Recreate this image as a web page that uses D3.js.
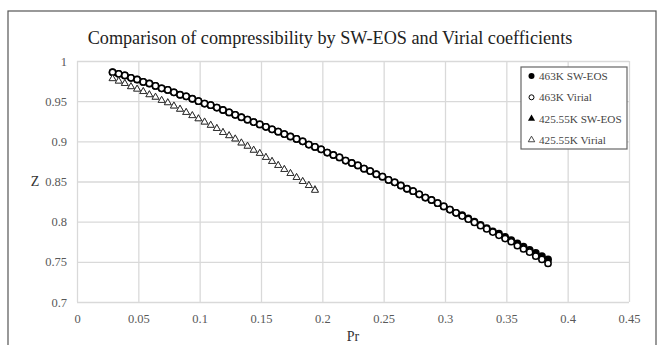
<!DOCTYPE html>
<html>
<head>
<meta charset="utf-8">
<script src="https://cdn.jsdelivr.net/npm/d3@7"></script>
<style>
  body { margin: 0; background: #fff; }
  svg { display: block; font-family: "Liberation Serif", serif; }
</style>
</head>
<body>
<svg id="chart" width="662" height="345"></svg>
<script>
// reduced pressure, shared by all four series
var prValues = [
  0.029, 0.034, 0.039, 0.044, 0.049, 0.054, 0.059, 0.064, 0.069, 0.074,
  0.079, 0.084, 0.089, 0.094, 0.099, 0.104, 0.109, 0.114, 0.119, 0.124,
  0.129, 0.134, 0.139, 0.144, 0.149, 0.154, 0.159, 0.164, 0.169, 0.174,
  0.179, 0.184, 0.189, 0.194, 0.199, 0.204, 0.209, 0.214, 0.219, 0.224,
  0.229, 0.234, 0.239, 0.244, 0.249, 0.254, 0.259, 0.264, 0.269, 0.274,
  0.279, 0.284, 0.289, 0.294, 0.299, 0.304, 0.309, 0.314, 0.319, 0.324,
  0.329, 0.334, 0.339, 0.344, 0.349, 0.354, 0.359, 0.364, 0.369, 0.374,
  0.379, 0.384
];

var z463Sw = [
  0.986, 0.984, 0.982, 0.979, 0.977, 0.974, 0.972, 0.969, 0.966, 0.964,
  0.961, 0.958, 0.956, 0.953, 0.950, 0.947, 0.945, 0.942, 0.939, 0.936,
  0.933, 0.930, 0.927, 0.924, 0.921, 0.918, 0.915, 0.912, 0.909, 0.906,
  0.903, 0.900, 0.896, 0.893, 0.890, 0.886, 0.883, 0.880, 0.876, 0.873,
  0.870, 0.866, 0.863, 0.859, 0.856, 0.852, 0.849, 0.845, 0.841, 0.838,
  0.834, 0.830, 0.827, 0.823, 0.819, 0.815, 0.811, 0.808, 0.804, 0.800,
  0.796, 0.792, 0.788, 0.785, 0.781, 0.777, 0.773, 0.769, 0.765, 0.761,
  0.757, 0.753
];

var z463Virial = [
  0.986, 0.984, 0.982, 0.979, 0.977, 0.974, 0.972, 0.969, 0.966, 0.964,
  0.961, 0.958, 0.956, 0.953, 0.950, 0.947, 0.945, 0.942, 0.939, 0.936,
  0.933, 0.930, 0.927, 0.924, 0.921, 0.918, 0.915, 0.912, 0.909, 0.906,
  0.903, 0.900, 0.896, 0.893, 0.890, 0.886, 0.883, 0.880, 0.876, 0.873,
  0.870, 0.866, 0.863, 0.859, 0.856, 0.852, 0.849, 0.845, 0.841, 0.838,
  0.834, 0.830, 0.827, 0.823, 0.819, 0.815, 0.811, 0.807, 0.803, 0.799,
  0.795, 0.791, 0.787, 0.783, 0.779, 0.775, 0.770, 0.766, 0.762, 0.757,
  0.753, 0.748
];

// 425.55K stops earlier (first 34 pressures)
var z425Sw = [
  0.978, 0.975, 0.972, 0.968, 0.965, 0.962, 0.958, 0.955, 0.951, 0.948,
  0.944, 0.940, 0.936, 0.932, 0.928, 0.924, 0.920, 0.916, 0.911, 0.907,
  0.903, 0.898, 0.894, 0.889, 0.885, 0.880, 0.875, 0.870, 0.865, 0.860,
  0.855, 0.850, 0.845, 0.840
];

var z425Virial = [
  0.978, 0.975, 0.972, 0.968, 0.965, 0.962, 0.958, 0.955, 0.951, 0.948,
  0.944, 0.940, 0.936, 0.932, 0.928, 0.924, 0.920, 0.916, 0.911, 0.907,
  0.903, 0.898, 0.894, 0.889, 0.885, 0.880, 0.875, 0.870, 0.865, 0.860,
  0.855, 0.850, 0.845, 0.839
];

var seriesNames = ["463K SW-EOS", "463K Virial", "425.55K SW-EOS", "425.55K Virial"];

var xTicks = [0, 0.05, 0.1, 0.15, 0.2, 0.25, 0.3, 0.35, 0.4, 0.45];
var xTickLabels = ["0", "0.05", "0.1", "0.15", "0.2", "0.25", "0.3", "0.35", "0.4", "0.45"];
var yTicks = [0.7, 0.75, 0.8, 0.85, 0.9, 0.95, 1];
var yTickLabels = ["0.7", "0.75", "0.8", "0.85", "0.9", "0.95", "1"];

var plotLeft = 77,
  plotRight = 629,
  plotTop = 61,
  plotBottom = 302;

var chart = d3.select("#chart");

// outer chart frame
chart
  .append("rect")
  .attr("x", 8)
  .attr("y", 11)
  .attr("width", 648)
  .attr("height", 345)
  .attr("fill", "#fff")
  .attr("stroke", "#555")
  .attr("stroke-width", 1.2);

var x = d3.scaleLinear().domain([0, 0.45]).range([plotLeft, plotRight]);
var y = d3.scaleLinear().domain([0.7, 1]).range([plotBottom, plotTop]);

function styleAxis(g) {
  g.select(".domain").remove();
  g.selectAll("line").attr("stroke", "#d9d9d9").attr("stroke-width", 1.3);
  g.selectAll("text")
    .attr("fill", "#595959")
    .style("font-size", "12.5px")
    .style("font-family", "Liberation Serif");
}

// gridlines + tick labels
chart
  .append("g")
  .attr("transform", "translate(0," + plotBottom + ")")
  .call(
    d3.axisBottom(x)
      .tickValues(xTicks)
      .tickSize(-(plotBottom - plotTop))
      .tickPadding(12)
      .tickFormat(function (d, i) {
        return xTickLabels[i];
      })
  )
  .call(styleAxis);

chart
  .append("g")
  .attr("transform", "translate(" + plotLeft + ",0)")
  .call(
    d3.axisLeft(y)
      .tickValues(yTicks)
      .tickSize(-(plotRight - plotLeft))
      .tickPadding(10)
      .tickFormat(function (d, i) {
        return yTickLabels[i];
      })
  )
  .call(styleAxis);

// 463K: filled circles underneath, open circles on top
chart
  .append("g")
  .selectAll("circle")
  .data(prValues)
  .enter()
  .append("circle")
  .attr("cx", function (d) {
    return x(d);
  })
  .attr("cy", function (d, i) {
    return y(z463Sw[i]);
  })
  .attr("r", 3.9)
  .attr("fill", "#000");

chart
  .append("g")
  .selectAll("circle")
  .data(prValues)
  .enter()
  .append("circle")
  .attr("cx", function (d) {
    return x(d);
  })
  .attr("cy", function (d, i) {
    return y(z463Virial[i]);
  })
  .attr("r", 3.1)
  .attr("fill", "#fff")
  .attr("stroke", "#000")
  .attr("stroke-width", 1.5);

// 425.55K: filled triangles underneath, open triangles on top
var tri = d3.symbol().type(d3.symbolTriangle);

chart
  .append("g")
  .selectAll("path")
  .data(z425Sw)
  .enter()
  .append("path")
  .attr("d", tri.size(26)())
  .attr("transform", function (d, i) {
    return "translate(" + x(prValues[i]) + "," + y(d) + ")";
  })
  .attr("fill", "#000");

chart
  .append("g")
  .selectAll("path")
  .data(z425Virial)
  .enter()
  .append("path")
  .attr("d", tri.size(21)())
  .attr("transform", function (d, i) {
    return "translate(" + x(prValues[i]) + "," + y(d) + ")";
  })
  .attr("fill", "#fff")
  .attr("stroke", "#333")
  .attr("stroke-width", 1);

// titles
chart
  .append("text")
  .text("Comparison of compressibility by SW-EOS and Virial coefficients")
  .attr("x", 330)
  .attr("y", 44)
  .attr("text-anchor", "middle")
  .attr("fill", "#222")
  .style("font-size", "18.2px");

chart
  .append("text")
  .text("Pr")
  .attr("x", (plotLeft + plotRight) / 2)
  .attr("y", 341)
  .attr("text-anchor", "middle")
  .attr("fill", "#333")
  .style("font-size", "14px");

chart
  .append("text")
  .text("Z")
  .attr("x", 35)
  .attr("y", 186)
  .attr("text-anchor", "middle")
  .attr("fill", "#333")
  .style("font-size", "14px");

// legend
var legend = chart.append("g");

legend
  .append("rect")
  .attr("x", 521)
  .attr("y", 67)
  .attr("width", 106)
  .attr("height", 82)
  .attr("fill", "#fff")
  .attr("stroke", "#666")
  .attr("stroke-width", 1.2);

var legendRows = legend
  .selectAll("g.row")
  .data(seriesNames)
  .enter()
  .append("g")
  .attr("class", "row")
  .attr("transform", function (d, i) {
    return "translate(531.5," + (76 + i * 21.3) + ")";
  });

legendRows.each(function (d, i) {
  var row = d3.select(this);
  if (i < 2) {
    row
      .append("circle")
      .attr("r", i == 0 ? 3 : 2.5)
      .attr("fill", i == 0 ? "#000" : "#fff")
      .attr("stroke", "#000")
      .attr("stroke-width", i == 0 ? 0 : 1);
  } else {
    row
      .append("path")
      .attr("d", tri.size(i == 2 ? 22 : 18)())
      .attr("fill", i == 2 ? "#000" : "#fff")
      .attr("stroke", i == 2 ? "none" : "#333")
      .attr("stroke-width", 0.9);
  }
  row
    .append("text")
    .text(d)
    .attr("x", 7.5)
    .attr("dy", "0.35em")
    .attr("fill", "#444")
    .style("font-size", "11.2px");
});
</script>
</body>
</html>
